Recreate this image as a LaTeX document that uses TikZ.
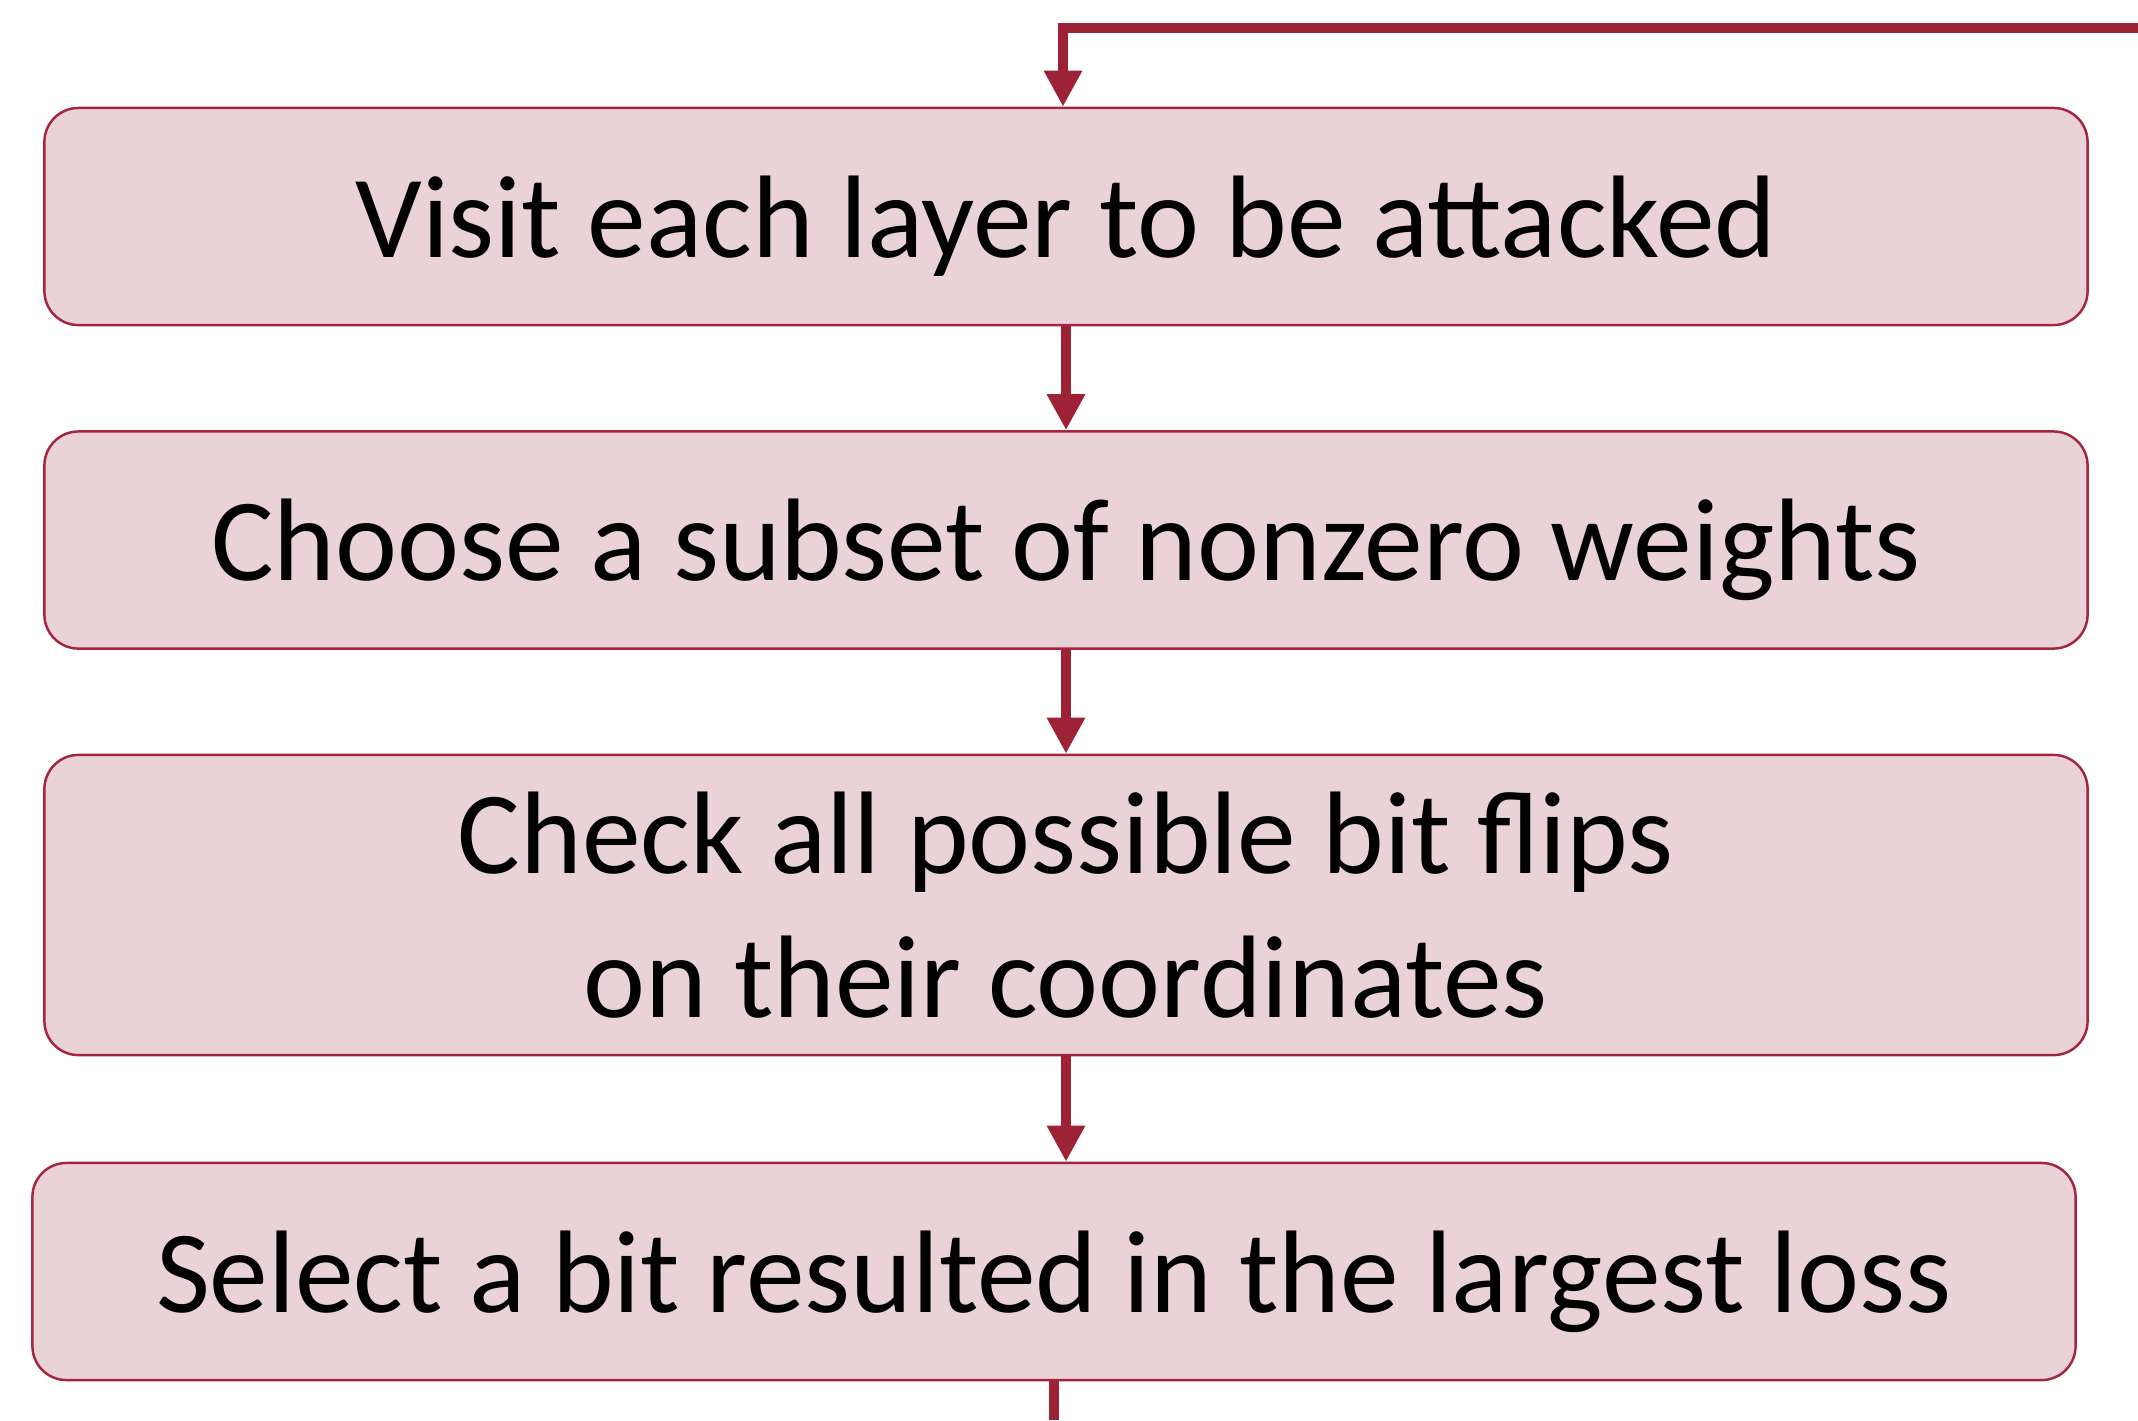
\documentclass[tikz,border=0pt]{standalone}
\usepackage{fontspec}
\setmainfont{Carlito}
\usetikzlibrary{arrows.meta}
\definecolor{boxfill}{HTML}{EAD3D7}
\definecolor{boxline}{HTML}{A3253E}
\definecolor{arrowred}{HTML}{9E2236}
\newcommand{\lowtext}[1]{\raisebox{-0.1cm}[\height][\depth]{#1}}
\begin{document}
\begin{tikzpicture}[x=0.01cm,y=-0.01cm,
  stepbox/.style={draw=boxline, fill=boxfill, line width=0.7pt, rounded corners=0.34cm,
    minimum width=20.42cm, minimum height=2.17cm, inner sep=0pt, align=center,
    font=\fontsize{33.4}{40.9}\selectfont},
  conn/.style={draw=arrowred, line width=3.1pt, -{Triangle[length=0.36cm,width=0.36cm]}},
  plain/.style={draw=arrowred, line width=3.1pt}]
\useasboundingbox (0,0) rectangle (2138,1420);
\node[stepbox] (b1) at (1066,216.5) {\lowtext{Visit each layer to be attacked}};
\node[stepbox] (b2) at (1066,540) {\lowtext{Choose a subset of nonzero weights}};
\node[stepbox, minimum height=3.0cm] (b3) at (1066,905) {Check all possible bit flips\\on their coordinates};
\node[stepbox] (b4) at (1054,1271.5) {\lowtext{Select a bit resulted in the largest loss}};
\coordinate (topR) at (2138,28);
\coordinate (botEnd) at (1054,1420);
\draw[conn] (topR) -| ([xshift=-0.03cm]b1.north);
\draw[conn] (b1.south) -- (b2.north);
\draw[conn] (b2.south) -- (b3.north);
\draw[conn] (b3.south) -- (b3.south |- b4.north);
\draw[plain] (b4.south) -- (botEnd);
\end{tikzpicture}
\end{document}
